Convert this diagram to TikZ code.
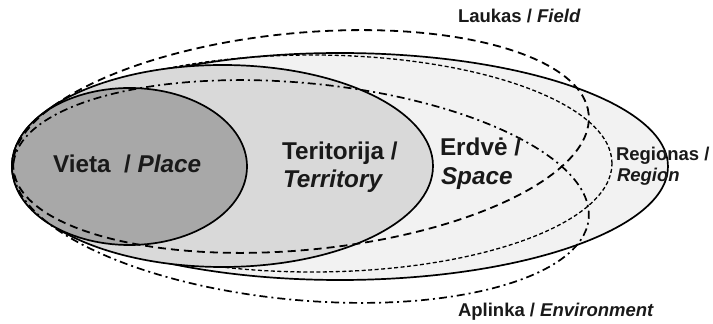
\documentclass[tikz,border=0pt]{standalone}
\usepackage{fontspec}
\setmainfont{Liberation Sans}
\usetikzlibrary{positioning}

\definecolor{regfill}{HTML}{F2F2F2}
\definecolor{terfill}{HTML}{D9D9D9}
\definecolor{plfill}{HTML}{A8A8A8}

\begin{document}
\begin{tikzpicture}[x=1pt, y=1pt, line width=1.7pt,
    txt/.style={anchor=base west, inner sep=0, outer sep=0, text=black!90, font=\bfseries\fontsize{24.3}{28}\selectfont},
    small/.style={txt, font=\bfseries\fontsize{18.5}{22}\selectfont},
    field/.style={line width=1.8pt, dash pattern=on 8pt off 5pt},
    env/.style={line width=1.7pt, dash pattern=on 8pt off 4pt on 2pt off 4pt},
    space/.style={line width=1.3pt, dash pattern=on 4pt off 2.5pt}]
        \useasboundingbox (0,0) rectangle (713,324);
        % region
        \draw[fill=regfill] (340,157.5) ellipse [x radius=328pt, y radius=113.5pt];
        % space
        \draw[space] (312,160.5) ellipse [x radius=300pt, y radius=108.5pt];
        % territory and place
        \draw[fill=terfill] (222.5,158) ellipse [x radius=210.5pt, y radius=101pt];
        \draw[fill=plfill] (129.5,157.5) ellipse [x radius=117.5pt, y radius=78.5pt];
        % field and environment
        \draw[field] (301,182.5) circle [x radius=289pt, y radius=108.5pt, rotate=5.4];
        \draw[env] (301,132.5) circle [x radius=289pt, y radius=108.5pt, rotate=-5.4];
        % labels
        \node[txt] (vieta) at (53,151) {Vieta\ \ / \textit{Place}};
        \node[txt] (teritorija) at (282,164) {Teritorija /};
        \node[txt] (territory) at (283,136) {\textit{Territory}};
        \node[txt] (erdve) at (440,168) {Erdvė /};
        \node[txt] (space) at (441,139) {\textit{Space}};
        \node[small] (regionas) at (616,163) {Regionas /};
        \node[small] (region) at (617,142) {\textit{Region}};
        \node[small] (laukas) at (458,301) {Laukas / \textit{Field}};
        \node[small] (aplinka) at (458,7) {Aplinka / \textit{Environment}};
\end{tikzpicture}
\end{document}
